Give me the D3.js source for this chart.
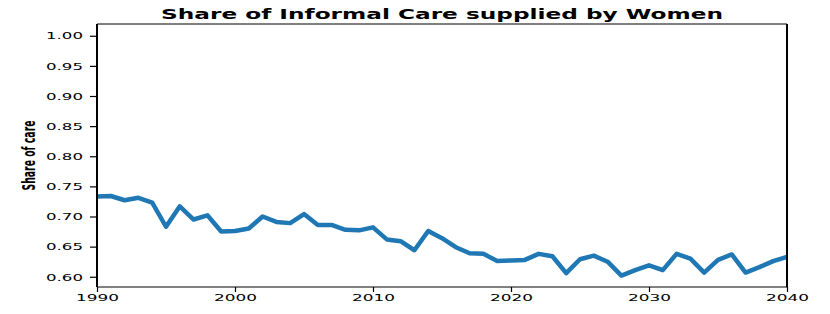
<!DOCTYPE html>
<html>
<head>
<meta charset="utf-8">
<script src="https://cdn.jsdelivr.net/npm/d3@7"></script>
<style>
	body { margin: 0; background: #fff; }
	svg { display: block; }
	text { font-family: 'DejaVu Sans', sans-serif; fill: #000; }
	.chart-line { fill: none; stroke: #1f77b4; stroke-width: 4.5; stroke-linejoin: round; }
</style>
</head>
<body>
<svg id="care-chart" width="830" height="314"></svg>
<script>
var years = d3.range(1990, 2041);

var womenShare = [
	0.733, 0.734, 0.727, 0.731, 0.723, 0.683, 0.717, 0.695, 0.702, 0.675,
	0.676, 0.680, 0.700, 0.691, 0.689, 0.704, 0.686, 0.686, 0.678, 0.677,
	0.682, 0.662, 0.659, 0.644, 0.676, 0.664, 0.649, 0.639, 0.638, 0.626,
	0.627, 0.628, 0.638, 0.634, 0.606, 0.629, 0.635, 0.625, 0.602, 0.611,
	0.619, 0.611, 0.638, 0.630, 0.607, 0.628, 0.637, 0.607, 0.616, 0.626,
	0.633
];

var yTicks = [0.60, 0.65, 0.70, 0.75, 0.80, 0.85, 0.90, 0.95, 1.00];
var xTicks = [1990, 2000, 2010, 2020, 2030, 2040];

var data = years.map(function(y, i){ return {year : y, val : womenShare[i]}; });

var margin = {left : 97, right : 43, top : 24, bottom : 27};

var svg = d3.select('#care-chart'),
	width = 830 - margin.left - margin.right,
	height = 314 - margin.top - margin.bottom;

var x = d3.scaleLinear()
		.domain([1990, 2040])
		.range([0, width]);

var y = d3.scaleLinear()
		.domain([0.583, 1.0195])
		.range([height, 0]);

var mainG = svg.append('g')
		.attr('transform', `translate(${margin.left},${margin.top})`);

//line
var line = d3.line()
	.x(function(d){ return x(d.year); })
	.y(function(d){ return y(d.val); });

mainG.append('path')
	.datum(data)
	.attr('class', 'chart-line')
	.attr('d', line);

//axes
var yAxis = mainG.append('g')
	.call(d3.axisLeft(y).tickValues(yTicks).tickFormat(d3.format('.2f')).tickSize(7).tickPadding(7));

var xAxis = mainG.append('g')
	.attr('transform', `translate(0,${height})`)
	.call(d3.axisBottom(x).tickValues(xTicks).tickFormat(d3.format('d')).tickSize(5).tickPadding(3));

svg.selectAll('.domain').remove();
svg.selectAll('.tick line').attr('stroke', '#000').attr('stroke-width', 1.2);

yAxis.selectAll('text')
	.style('font-size', '9px')
	.attr('dy', '0.36em')
	.attr('textLength', 37)
	.attr('lengthAdjust', 'spacingAndGlyphs');

xAxis.selectAll('text')
	.style('font-size', '9px')
	.attr('textLength', 43)
	.attr('lengthAdjust', 'spacingAndGlyphs');

//frame
mainG.append('line').attr('x1', 0).attr('x2', width).attr('y1', 0).attr('y2', 0)
	.attr('stroke', '#000').attr('stroke-width', 1);
mainG.append('line').attr('x1', 0).attr('x2', width).attr('y1', height).attr('y2', height)
	.attr('stroke', '#000').attr('stroke-width', 1);
mainG.append('line').attr('x1', 0).attr('x2', 0).attr('y1', 0).attr('y2', height)
	.attr('stroke', '#000').attr('stroke-width', 2);
mainG.append('line').attr('x1', width).attr('x2', width).attr('y1', 0).attr('y2', height)
	.attr('stroke', '#000').attr('stroke-width', 2);

//title
svg.append('text')
	.attr('x', margin.left + width / 2)
	.attr('y', 19)
	.attr('text-anchor', 'middle')
	.style('font-size', '13.5px')
	.style('font-weight', 'bold')
	.attr('textLength', 562)
	.attr('lengthAdjust', 'spacingAndGlyphs')
	.text('Share of Informal Care supplied by Women');

//y label, stretched sideways like the rest of the figure
svg.append('text')
	.attr('transform', `translate(35,${margin.top + height / 2}) scale(1.9,1) rotate(-90)`)
	.attr('text-anchor', 'middle')
	.style('font-size', '9.5px')
	.style('font-weight', 'bold')
	.attr('textLength', 70)
	.attr('lengthAdjust', 'spacingAndGlyphs')
	.text('Share of care');
</script>
</body>
</html>
